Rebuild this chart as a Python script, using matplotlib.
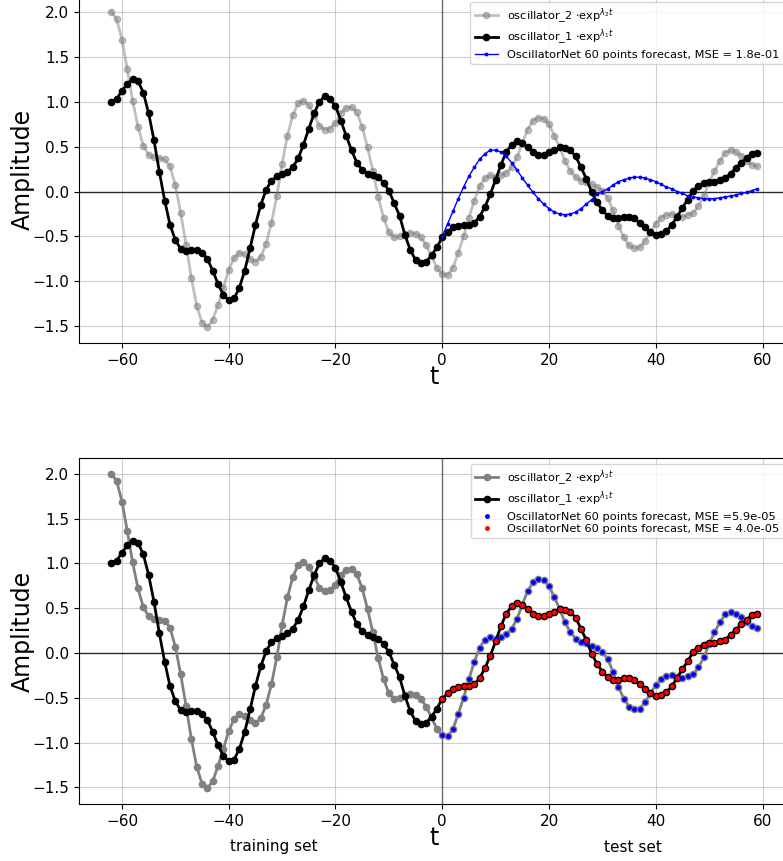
import numpy as np
import matplotlib
matplotlib.use("Agg")
import matplotlib.pyplot as plt

# time axis: 62 training points before 0, 60 test points from 0
t = np.arange(-62, 60)

osc2 = [2.00, 1.92, 1.69, 1.36, 1.01, 0.72, 0.51, 0.41, 0.38, 0.37,
        0.36, 0.28, 0.07, -0.24, -0.59, -0.96, -1.27, -1.46, -1.51, -1.43,
        -1.26, -1.07, -0.87, -0.74, -0.68, -0.70, -0.75, -0.78, -0.73, -0.58,
        -0.35, -0.05, 0.31, 0.62, 0.85, 0.98, 1.01, 0.96, 0.85, 0.73,
        0.69, 0.70, 0.76, 0.87, 0.93, 0.94, 0.88, 0.72, 0.49, 0.23,
        -0.06, -0.29, -0.45, -0.51, -0.50, -0.47, -0.46, -0.47, -0.51, -0.60,
        -0.72, -0.85, -0.92, -0.93, -0.85, -0.68, -0.50, -0.29, -0.10, 0.06,
        0.15, 0.18, 0.16, 0.18, 0.21, 0.27, 0.38, 0.54, 0.69, 0.79,
        0.82, 0.81, 0.75, 0.62, 0.49, 0.34, 0.23, 0.16, 0.12, 0.11,
        0.08, 0.05, 0.01, -0.07, -0.21, -0.38, -0.51, -0.60, -0.63, -0.62,
        -0.55, -0.45, -0.36, -0.29, -0.26, -0.25, -0.27, -0.28, -0.26, -0.24,
        -0.16, -0.05, 0.10, 0.23, 0.34, 0.43, 0.46, 0.44, 0.40, 0.34,
        0.30, 0.28]

osc1 = [1.00, 1.03, 1.12, 1.20, 1.25, 1.23, 1.10, 0.87, 0.57, 0.22,
        -0.10, -0.37, -0.54, -0.64, -0.66, -0.65, -0.65, -0.68, -0.75, -0.88,
        -1.03, -1.15, -1.21, -1.19, -1.07, -0.88, -0.63, -0.37, -0.15, 0.02,
        0.12, 0.17, 0.19, 0.22, 0.27, 0.37, 0.52, 0.70, 0.87, 1.00,
        1.06, 1.03, 0.95, 0.79, 0.62, 0.46, 0.32, 0.24, 0.20, 0.18,
        0.16, 0.10, 0.01, -0.13, -0.27, -0.48, -0.65, -0.76, -0.79, -0.78,
        -0.71, -0.62, -0.51, -0.45, -0.40, -0.38, -0.37, -0.37, -0.35, -0.28,
        -0.17, -0.03, 0.13, 0.30, 0.44, 0.52, 0.56, 0.54, 0.49, 0.44,
        0.41, 0.41, 0.44, 0.46, 0.49, 0.48, 0.46, 0.39, 0.27, 0.14,
        -0.01, -0.12, -0.21, -0.27, -0.30, -0.30, -0.28, -0.28, -0.30, -0.35,
        -0.40, -0.45, -0.48, -0.47, -0.44, -0.37, -0.28, -0.18, -0.09, 0.01,
        0.06, 0.09, 0.11, 0.11, 0.13, 0.15, 0.20, 0.26, 0.32, 0.37,
        0.42, 0.43]

# forecast of the bad model (top panel), t = 0..59
t_fc = np.arange(0, 60)
forecast_bad = [-0.50, -0.36, -0.22, -0.08, 0.05, 0.17, 0.27, 0.36, 0.42, 0.46,
                0.46, 0.44, 0.39, 0.32, 0.24, 0.15, 0.07, -0.01, -0.08, -0.14,
                -0.19, -0.23, -0.25, -0.26, -0.25, -0.23, -0.19, -0.14, -0.09, -0.03,
                0.00, 0.03, 0.07, 0.11, 0.13, 0.15, 0.16, 0.16, 0.15, 0.13,
                0.11, 0.08, 0.05, 0.03, 0.00, -0.02, -0.05, -0.06, -0.07, -0.08,
                -0.08, -0.08, -0.07, -0.06, -0.05, -0.04, -0.02, -0.01, 0.01, 0.03]

# the good model forecasts (bottom panel) sit on the true curves
forecast_osc2 = np.array(osc2)[t >= 0]
forecast_osc1 = np.array(osc1)[t >= 0]

lab2 = r"oscillator_2 $\cdot$exp$^{\lambda_2 t}$"
lab1 = r"oscillator_1 $\cdot$exp$^{\lambda_1 t}$"

W, H = 783, 861
fig = plt.figure(figsize=(W / 100, H / 100), dpi=100)

def axes_px(top, bottom, left=79, right=789.5):
    return fig.add_axes([left / W, (H - bottom) / H, (right - left) / W, (bottom - top) / H])

ax1 = axes_px(-4, 343)
ax2 = axes_px(458, 804)

for ax in (ax1, ax2):
    ax.axhline(0, color="k", lw=1, alpha=0.8)
    ax.axvline(0, color="k", lw=1, alpha=0.5)
    ax.grid(True, alpha=0.6)
    ax.set_ylabel("Amplitude", fontsize=17, labelpad=-1.5)
    ax.set_xlabel("t", fontsize=17, labelpad=-2)
    ax.tick_params(labelsize=11)

ax1.plot(t, osc2, "o-", color="gray", alpha=0.5, lw=2, ms=4.5, label=lab2)
ax1.plot(t, osc1, "o-", color="k", lw=2, ms=4.5, label=lab1)
ax1.plot(t_fc, forecast_bad, ".-", color="b", lw=1, ms=3.5,
         label="OscillatorNet 60 points forecast, MSE = 1.8e-01")
ax1.legend(loc="upper right", fontsize=8.2, labelspacing=0.2)

ax2.plot(t, osc2, "o-", color="gray", lw=2, ms=4.5, label=lab2)
ax2.plot(t, osc1, "o-", color="k", lw=2, ms=4.5, label=lab1)
ax2.plot(t_fc, forecast_osc2, "b.", ms=5,
         label="OscillatorNet 60 points forecast, MSE =5.9e-05")
ax2.plot(t_fc, forecast_osc1, "r.", ms=5,
         label="OscillatorNet 60 points forecast, MSE = 4.0e-05")
ax2.legend(loc="upper right", fontsize=8.2, labelspacing=0.2)

fig.text(274 / W, (H - 847) / H, "training set", ha="center", va="center", fontsize=11)
fig.text(633 / W, (H - 847) / H, "test set", ha="center", va="center", fontsize=11)

fig.savefig("out.png", dpi=100)
